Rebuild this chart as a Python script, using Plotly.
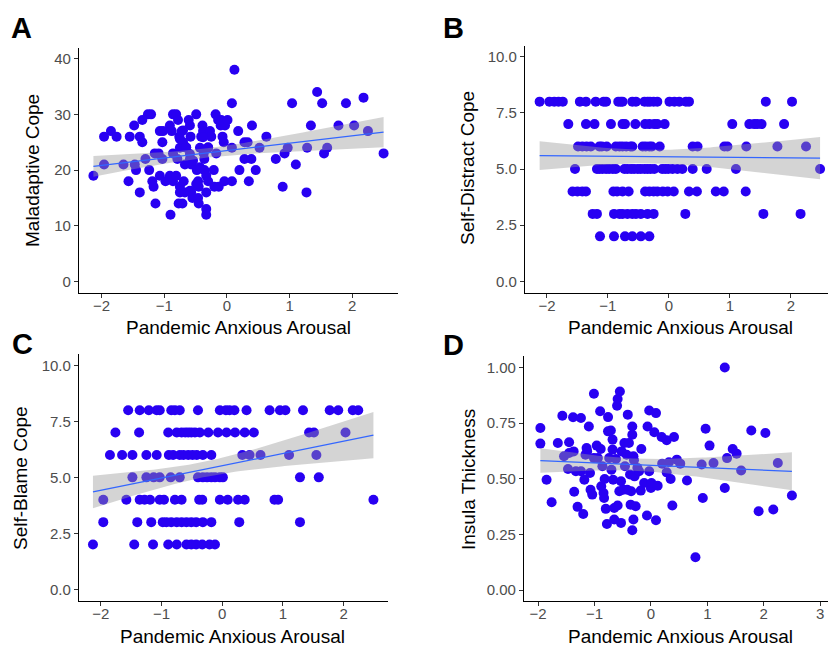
import numpy as np
import plotly.graph_objects as go

# ---------------- data ----------------
# Panel A: Maladaptive Cope
a_x = [-2.13, -1.96, -1.96, -1.85, -1.76, -1.65, -1.55, -1.57, -1.48, -1.47, -1.45, -1.39, -1.35, -1.35,
       -1.39, -1.30, -1.26, -1.21, -1.24, -1.19, -1.17, -1.15, -1.14, -1.09, -1.07, -1.03, -1.03, -1.07,
       -0.98, -1.02, -0.90, -0.91, -0.91, -0.88, -0.86, -0.86, -0.86, -0.81, -0.78, -0.81, -0.79, -0.76,
       -0.75, -0.72, -0.70, -0.77, -0.71, -0.75, -0.75, -0.69, -0.67, -0.67, -0.65, -0.61, -0.59, -0.58,
       -0.59, -0.57, -0.57, -0.55, -0.49, -0.48, -0.46, -0.45, -0.46, -0.45, -0.43, -0.41, -0.39, -0.38,
       -0.37, -0.36, -0.36, -0.33, -0.33, -0.33, -0.33, -0.30, -0.30, -0.27, -0.25, -0.21, -0.20, -0.18,
       -0.17, -0.14, -0.13, -0.10, -0.09, -0.07, -0.05, -0.04, -0.03, 0.01, 0.08, 0.08, 0.08, 0.12, 0.18,
       0.20, 0.28, 0.28, 0.33, 0.35, 0.39, 0.40, 0.46, 0.52, 0.63, 0.78, 0.89, 0.92, 0.97, 1.04, 1.10,
       1.27, 1.28, 1.34, 1.44, 1.52, 1.55, 1.60, 1.78, 1.90, 2.03, 2.18, 2.25, 2.50,
       -0.75, -0.65, -0.54, -0.43, -0.59, -0.70, -0.38, -0.30, -0.49, -0.59]
a_y = [19, 26, 21, 27, 26, 21, 26, 18, 28, 21, 20, 26, 29, 25,
       16, 22, 30, 30, 20, 18, 17, 23, 14, 23, 27, 25, 22, 19,
       18, 27, 12, 19, 28, 27, 23, 18, 30, 30, 29, 19, 22, 26,
       24, 27, 25, 14, 14, 16, 17, 18, 16, 21, 24, 29, 28, 26,
       22, 21, 16, 15, 30, 20, 18, 17, 15, 14, 24, 26, 28, 27,
       23, 22, 20, 19, 16, 13, 12, 18, 24, 27, 26, 20, 17, 30,
       23, 29, 17, 28, 29, 26, 25, 18, 28, 29, 24, 18, 32, 38, 27,
       20, 25, 22, 25, 18, 22, 28, 20, 24, 26, 22, 17, 23, 24, 32, 21,
       16, 24, 28, 34, 32, 23, 24, 28, 32, 28, 33, 27, 23,
       25.6, 24.1, 21.7, 20.5, 22.9, 27.1, 25.9, 24.1, 17.5, 16.3]

# Panel B: Self-Distract Cope
b_x = [-2.12, -1.96, -1.88, -1.81, -1.74, -1.46, -1.36, -1.20, -1.07, -1.03, -0.83, -0.79, -0.76, -0.60,
       -0.54, -0.40, -0.35, -0.31, -0.25, -0.19, 0.01, 0.09, 0.17, 0.28, 0.33, 1.59, 2.02,
       -1.65, -1.36, -1.22, -0.95, -0.76, -0.72, -0.55, -0.39, -0.32, -0.24, -0.19, -0.07, 1.04, 1.32,
       1.40, 1.45, 1.52, 1.89,
       -1.49, -1.42, -1.35, -1.28, -1.14, -1.10, -1.02, -0.87, -0.81, -0.76, -0.70, -0.63, -0.60, -0.43,
       -0.38, -0.32, -0.28, -0.15, 0.39, 0.47, 0.91, 0.96, 1.27, 1.78, 2.25,
       -1.54, -1.18, -1.14, -1.09, -1.03, -0.98, -0.92, -0.87, -0.73, -0.68, -0.62, -0.57, -0.51, -0.46,
       -0.40, -0.35, -0.30, -0.24, -0.11, -0.06, -0.01, 0.06, 0.14, 0.22, 0.39, 0.62, 1.10, 2.48,
       -1.58, -1.50, -1.42, -1.36, -0.91, -0.85, -0.76, -0.66, -0.39, -0.32, -0.25, -0.19, -0.10, -0.02,
       0.08, 0.33, 0.46, 0.77, 0.90, 1.26,
       -1.25, -1.18, -0.90, -0.81, -0.76, -0.68, -0.60, -0.54, -0.46, -0.35, -0.25, 0.27, 1.55, 2.16,
       -1.13, -0.90, -0.72, -0.60, -0.46, -0.32]
b_y = [8] * 27 + [7] * 18 + [6] * 25 + [5] * 28 + [4] * 20 + [3] * 14 + [2] * 6

# Panel C: Self-Blame Cope
c_x = [-1.55, -1.36, -1.21, -1.08, -1.03, -0.84, -0.78, -0.70, -0.40, -0.04, 0.06, 0.12, 0.20, 0.40,
       0.78, 0.95, 1.04, 1.33, 1.77, 1.91, 2.15, 2.24,
       -1.76, -1.37, -0.89, -0.75, -0.67, -0.61, -0.56, -0.51, -0.45, -0.37, -0.23, -0.07, 0.07, 0.21,
       0.37, 0.52, 1.43, 1.51, 2.03,
       -1.85, -1.65, -1.48, -1.25, -1.08, -0.88, -0.81, -0.70, -0.64, -0.56, -0.49, -0.42, -0.32, -0.18,
       0.33, 0.45, 0.63, 1.10, 1.55,
       -1.48, -1.25, -1.13, -1.03, -0.85, -0.70, -0.40, -0.32, -0.25, -0.18, -0.12, -0.04, 0.01, 1.28, 1.59,
       -1.96, -1.58, -1.36, -1.28, -1.19, -1.03, -0.96, -0.78, -0.67, -0.38, -0.33, -0.04, 0.09, 0.26,
       0.37, 0.86, 0.92, 2.49,
       -1.96, -1.40, -1.17, -0.98, -0.92, -0.84, -0.75, -0.67, -0.59, -0.51, -0.43, -0.32, -0.18, 0.28, 1.28,
       -2.13, -1.45, -1.14, -0.89, -0.75, -0.59, -0.51, -0.43, -0.33, -0.21, -0.12]
c_y = [8] * 22 + [7] * 19 + [6] * 19 + [5] * 15 + [4] * 18 + [3] * 15 + [2] * 11

# Panel D: Insula Thickness
d_x = [-1.96, -1.96, -1.85, -1.76, -1.65, -1.57, -1.54, -1.47, -1.45, -1.45, -1.38, -1.37, -1.36, -1.33,
       -1.30, -1.24, -1.24, -1.20, -1.18, -1.16, -1.14, -1.13, -1.10, -1.08, -1.07, -1.04, -1.01, -1.01,
       -0.96, -0.94, -0.90, -0.89, -0.88, -0.86, -0.84, -0.83, -0.82, -0.80, -0.78, -0.76, -0.76, -0.74,
       -0.71, -0.70, -0.68, -0.68, -0.67, -0.65, -0.65, -0.62, -0.60, -0.59, -0.59, -0.56, -0.55, -0.53,
       -0.53, -0.52, -0.49, -0.47, -0.46, -0.43, -0.42, -0.41, -0.39, -0.37, -0.36, -0.35, -0.33, -0.33,
       -0.33, -0.31, -0.31, -0.30, -0.29, -0.27, -0.24, -0.21, -0.18, -0.17, -0.12, -0.07, -0.06, -0.03,
       -0.03, 0.00, 0.01, 0.06, 0.09, 0.09, 0.12, 0.19, 0.20, 0.28, 0.28, 0.32, 0.35, 0.38, 0.41, 0.46,
       0.52, 0.64, 0.79, 0.90, 0.92, 0.97, 1.04, 1.11, 1.31, 1.31, 1.35, 1.45, 1.52, 1.60, 1.78, 1.91,
       2.03, 2.17, 2.25, 2.50]
d_y = [0.728, 0.658, 0.496, 0.395, 0.661, 0.783, 0.601, 0.544, 0.664, 0.616, 0.776, 0.623, 0.442, 0.534,
       0.374, 0.773, 0.534, 0.342, 0.496, 0.608, 0.638, 0.623, 0.735, 0.526, 0.451, 0.429, 0.882, 0.593,
       0.649, 0.593, 0.803, 0.634, 0.466, 0.556, 0.436, 0.414, 0.499, 0.365, 0.297, 0.777, 0.713, 0.593,
       0.717, 0.541, 0.676, 0.631, 0.496, 0.317, 0.369, 0.589, 0.828, 0.858, 0.380, 0.444, 0.892, 0.489,
       0.302, 0.623, 0.451, 0.661, 0.556, 0.608, 0.451, 0.788, 0.661, 0.519, 0.384, 0.444, 0.735, 0.698,
       0.269, 0.317, 0.601, 0.583, 0.511, 0.377, 0.549, 0.534, 0.447, 0.634, 0.481, 0.335, 0.735, 0.807,
       0.534, 0.459, 0.481, 0.709, 0.795, 0.314, 0.469, 0.688, 0.568, 0.673, 0.529, 0.574, 0.499, 0.380,
       0.688, 0.586, 0.568, 0.492, 0.148, 0.564, 0.414, 0.725, 0.649, 0.571, 1.000, 0.459, 0.593, 0.634,
       0.613, 0.537, 0.717, 0.354, 0.706, 0.362, 0.571, 0.425]

panels = [
    dict(x=a_x, y=a_y, ytitle="Maladaptive Cope", letter="A",
         yticks=[0, 10, 20, 30, 40], yfmt="d", xticks=[-2, -1, 0, 1, 2]),
    dict(x=b_x, y=b_y, ytitle="Self-Distract Cope", letter="B",
         yticks=[0, 2.5, 5, 7.5, 10], yfmt=".1f", xticks=[-2, -1, 0, 1, 2]),
    dict(x=c_x, y=c_y, ytitle="Self-Blame Cope", letter="C",
         yticks=[0, 2.5, 5, 7.5, 10], yfmt=".1f", xticks=[-2, -1, 0, 1, 2]),
    dict(x=d_x, y=d_y, ytitle="Insula Thickness", letter="D",
         yticks=[0, 0.25, 0.5, 0.75, 1.0], yfmt=".2f", xticks=[-2, -1, 0, 1, 2, 3]),
]

# ---------------- layout geometry (pixels) ----------------
W, H = 828, 646
# (left, right, top, bottom) pixel box of each panel
boxes = [(79, 398, 47.5, 292.7), (525, 828, 45.5, 292.5), (79, 388, 354.2, 600.5), (524, 828, 356.3, 601.3)]
xranges = [[-2.36, 2.73], [-2.36, 2.61], [-2.36, 2.73], [-2.25, 3.14]]
yranges = [[-2, 42], [-0.5, 10.5], [-0.5, 10.5], [-0.05, 1.05]]
letter_pos = [(21, 28), (453, 28), (22, 344), (453, 345)]
ytitle_pos = [(33, 171), (467, 168), (20, 478), (468, 479)]
xtitle_pos = [(238, 327), (680, 327), (233, 636), (680, 636)]

POINT = "#2800F2"
FONT = "Liberation Sans, Arial, sans-serif"

fig = go.Figure()
annotations = []


def ols_band(x, y, n_grid=80):
    x = np.asarray(x, float)
    y = np.asarray(y, float)
    n = len(x)
    b, a = np.polyfit(x, y, 1)
    resid = y - (a + b * x)
    s = np.sqrt(np.sum(resid ** 2) / (n - 2))
    xm = x.mean()
    sxx = np.sum((x - xm) ** 2)
    g = np.linspace(x.min(), x.max(), n_grid)
    fit = a + b * g
    se = s * np.sqrt(1.0 / n + (g - xm) ** 2 / sxx)
    return g, fit, fit - 1.97 * se, fit + 1.97 * se


for i, p in enumerate(panels):
    k = "" if i == 0 else str(i + 1)
    xa, ya = "x" + k, "y" + k
    l, r, t, btm = boxes[i]
    g, fit, lo, hi = ols_band(p["x"], p["y"])

    fig.add_trace(go.Scatter(x=p["x"], y=p["y"], mode="markers", xaxis=xa, yaxis=ya,
                             marker=dict(size=10, color=POINT, line=dict(width=0)),
                             showlegend=False, hoverinfo="skip"))
    fig.add_trace(go.Scatter(x=np.concatenate([g, g[::-1]]), y=np.concatenate([hi, lo[::-1]]),
                             mode="lines", fill="toself", fillcolor="rgba(153,153,153,0.42)",
                             line=dict(width=0), xaxis=xa, yaxis=ya, showlegend=False, hoverinfo="skip"))
    fig.add_trace(go.Scatter(x=g, y=fit, mode="lines", line=dict(color="#3366FF", width=1.3),
                             xaxis=xa, yaxis=ya, showlegend=False, hoverinfo="skip"))

    axis_common = dict(showgrid=False, zeroline=False, showline=True, linecolor="black", linewidth=1.3,
                       ticks="outside", ticklen=4, tickwidth=1.1, tickcolor="#333333",
                       tickfont=dict(family=FONT, size=15, color="#4D4D4D"), fixedrange=True)
    fig.update_layout(**{
        ("xaxis" + k): dict(domain=[l / W, r / W], range=xranges[i], tickvals=p["xticks"],
                            anchor=ya, ticklabelstandoff=-5, **axis_common),
        ("yaxis" + k): dict(domain=[1 - btm / H, 1 - t / H], range=yranges[i], tickvals=p["yticks"],
                            tickformat=p["yfmt"], anchor=xa, **axis_common),
    })

    lx, ly = letter_pos[i]
    annotations.append(dict(text="<b>" + p["letter"] + "</b>", x=lx / W, y=1 - ly / H, xref="paper",
                            yref="paper", showarrow=False, xanchor="center", yanchor="middle",
                            font=dict(family=FONT, size=29, color="black")))
    tx, ty = ytitle_pos[i]
    annotations.append(dict(text=p["ytitle"], x=tx / W, y=1 - ty / H, xref="paper", yref="paper",
                            showarrow=False, textangle=-90, xanchor="center", yanchor="middle",
                            font=dict(family=FONT, size=19, color="black")))
    tx, ty = xtitle_pos[i]
    annotations.append(dict(text="Pandemic Anxious Arousal", x=tx / W, y=1 - ty / H, xref="paper",
                            yref="paper", showarrow=False, xanchor="center", yanchor="middle",
                            font=dict(family=FONT, size=19, color="black")))

fig.update_layout(width=W, height=H, margin=dict(l=0, r=0, t=0, b=0), paper_bgcolor="white",
                  plot_bgcolor="white", annotations=annotations, showlegend=False,
                  font=dict(family=FONT))

fig.write_html("out.html", include_plotlyjs=True, full_html=True,
               config=dict(displayModeBar=False),
               post_script="document.body.style.margin='0px';document.body.style.overflow='hidden';")
